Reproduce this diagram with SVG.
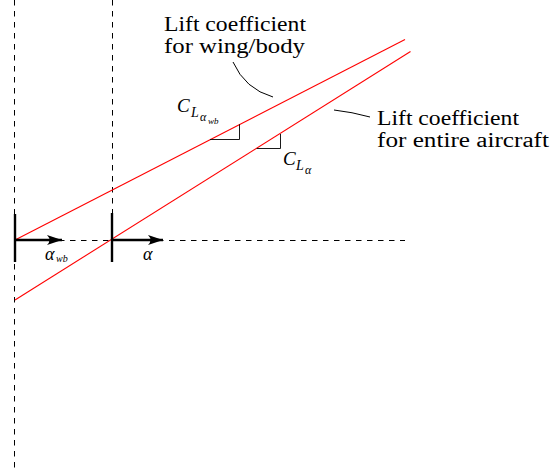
<svg xmlns="http://www.w3.org/2000/svg" width="550" height="468" viewBox="0 0 550 468">
<style>
.dash{stroke:#000;stroke-width:1;stroke-dasharray:5.5 5.5;fill:none}
.red{stroke:#f00;stroke-width:1.1;fill:none}
.tick{stroke:#000;stroke-width:2.4;fill:none}
.tri{stroke:#000;stroke-width:0.9;fill:none}
.lead{stroke:#000;stroke-width:1;fill:none}
text{font-family:'Liberation Serif','Times New Roman',serif;fill:#000}
.txt{font-size:20px}
.m{font-style:italic}
</style>
<defs>
<marker id="ah" markerWidth="16" markerHeight="12" refX="15" refY="6" orient="auto" markerUnits="userSpaceOnUse">
<path d="M0,1 Q5,6 0,11 L15,6 Z" fill="#000"/>
</marker>
</defs>
<g id="connectors">
<line class="dash" x1="14.5" y1="0" x2="14.5" y2="468"/>
<line class="dash" x1="112.5" y1="0" x2="112.5" y2="214"/>
<line class="dash" x1="15" y1="240.5" x2="405" y2="240.5"/>
<line class="red" x1="15" y1="240" x2="405" y2="39.5"/>
<line class="red" x1="15" y1="300" x2="410.5" y2="51.5"/>
<line class="tick" x1="15" y1="214" x2="15" y2="262"/>
<line class="tick" x1="112" y1="213" x2="112" y2="262"/>
<line class="tick" x1="15" y1="240" x2="62" y2="240" marker-end="url(#ah)"/>
<line class="tick" x1="112" y1="240" x2="163" y2="240" marker-end="url(#ah)"/>
<polyline class="tri" points="210,139.5 239.5,139.5 239.5,124.3"/>
<polyline class="tri" points="256.7,148.5 280.5,148.5 280.5,134"/>
<path class="lead" d="M233,62 Q245,89 273,97"/>
<path class="lead" d="M334,110 Q352,112 370,117"/>
</g>
<g id="label-wingbody">
<text class="txt" x="164" y="31" textLength="142" lengthAdjust="spacingAndGlyphs">Lift coefficient</text>
<text class="txt" x="164" y="53" textLength="141" lengthAdjust="spacingAndGlyphs">for wing/body</text>
</g>
<g id="label-aircraft">
<text class="txt" x="377" y="125" textLength="142" lengthAdjust="spacingAndGlyphs">Lift coefficient</text>
<text class="txt" x="377" y="147" textLength="172" lengthAdjust="spacingAndGlyphs">for entire aircraft</text>
</g>
<g id="label-CLawb">
<text class="m" x="177" y="112" font-size="19">C</text>
<text class="m" x="191" y="117" font-size="14">L</text>
<text class="m" x="200" y="121" font-size="12">α</text>
<text class="m" x="208" y="124" font-size="9">wb</text>
</g>
<g id="label-CLa">
<text class="m" x="283" y="165" font-size="19">C</text>
<text class="m" x="296" y="170" font-size="14">L</text>
<text class="m" x="305" y="174" font-size="12">α</text>
</g>
<g id="label-awb">
<text class="m" x="45" y="260" font-size="18">α</text>
<text class="m" x="56" y="262" font-size="10">wb</text>
</g>
<g id="label-a">
<text class="m" x="143" y="260" font-size="18">α</text>
</g>
</svg>
